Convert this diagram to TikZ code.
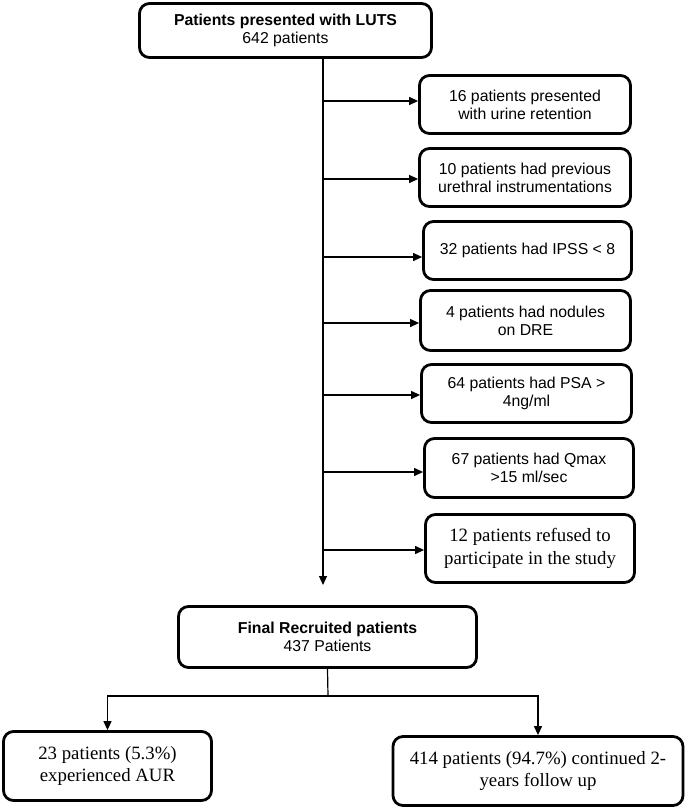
\documentclass[tikz,border=0pt]{standalone}
\usepackage{fontspec}
\setmainfont{Liberation Sans}
\newfontfamily\timesf{Liberation Serif}
\usetikzlibrary{arrows.meta}
\tikzset{
  box/.style={draw=black, line width=2.8pt, rounded corners=10pt, align=center, inner sep=0pt, fill=white,
    font=\fontsize{15.8}{18.2}\selectfont},
  tbox/.style={box, font=\timesf\fontsize{18.8}{22.6}\selectfont},
  conn/.style={draw=black, line width=1.2pt},
  arr/.style={conn, -{Triangle[length=9pt,width=8pt]}}
}
\begin{document}
\begin{tikzpicture}[x=1pt,y=-1pt]
\useasboundingbox (0,0) rectangle (685,808);
\node[box, minimum width=292, minimum height=54] (top) at (285.5,30.5) {\textbf{Patients presented with LUTS}\\642 patients};
\node[box, minimum width=211, minimum height=58] (r1) at (525,104.5) {16 patients presented\\with urine retention};
\node[box, minimum width=211, minimum height=58] (r2) at (525,177.5) {10 patients had previous\\urethral instrumentations};
\node[box, minimum width=208, minimum height=58] (r3) at (527.5,250.5) {32 patients had IPSS < 8};
\node[box, minimum width=210, minimum height=60] (r4) at (525.5,320.5) {4 patients had nodules\\on DRE};
\node[box, minimum width=210, minimum height=58] (r5) at (526.5,393.5) {64 patients had PSA >\\4ng/ml};
\node[box, minimum width=209, minimum height=59] (r6) at (529,468) {67 patients had Qmax\\>15 ml/sec};
\node[tbox, minimum width=209, minimum height=68] (r7) at (530,548.5) {12 patients refused to\\participate in the study};
\node[box, minimum width=298, minimum height=61] (fin) at (327.5,637) {\textbf{Final Recruited patients}\\437 Patients};
\node[tbox, minimum width=208, minimum height=69] (left) at (107.5,766) {23 patients (5.3\%)\\experienced AUR};
\node[tbox, minimum width=290, minimum height=69] (right) at (538,771) {414 patients (94.7\%) continued 2-\\years follow up};
\coordinate (mainend) at (323,585);
\coordinate (split) at (328,696);
\draw[arr] (top.south -| mainend) -- (mainend);
\draw[arr] ([yshift=3.5pt]r1.west -| mainend) -- ([yshift=3.5pt]r1.west);
\draw[arr] ([yshift=-1.5pt]r2.west -| mainend) -- ([yshift=-1.5pt]r2.west);
\draw[arr] ([yshift=-6.5pt]r3.west -| mainend) -- ([yshift=-6.5pt]r3.west);
\draw[arr] ([yshift=-2.5pt]r4.west -| mainend) -- ([yshift=-2.5pt]r4.west);
\draw[arr] ([yshift=-1.5pt]r5.west -| mainend) -- ([yshift=-1.5pt]r5.west);
\draw[arr] ([yshift=-4pt]r6.west -| mainend) -- ([yshift=-4pt]r6.west);
\draw[arr] ([yshift=-1.5pt]r7.west -| mainend) -- ([yshift=-1.5pt]r7.west);
\draw[conn] (fin.south) -- (split);
\draw[arr] (split) -| (left.north);
\draw[arr] (split) -| (right.north);
\end{tikzpicture}
\end{document}
